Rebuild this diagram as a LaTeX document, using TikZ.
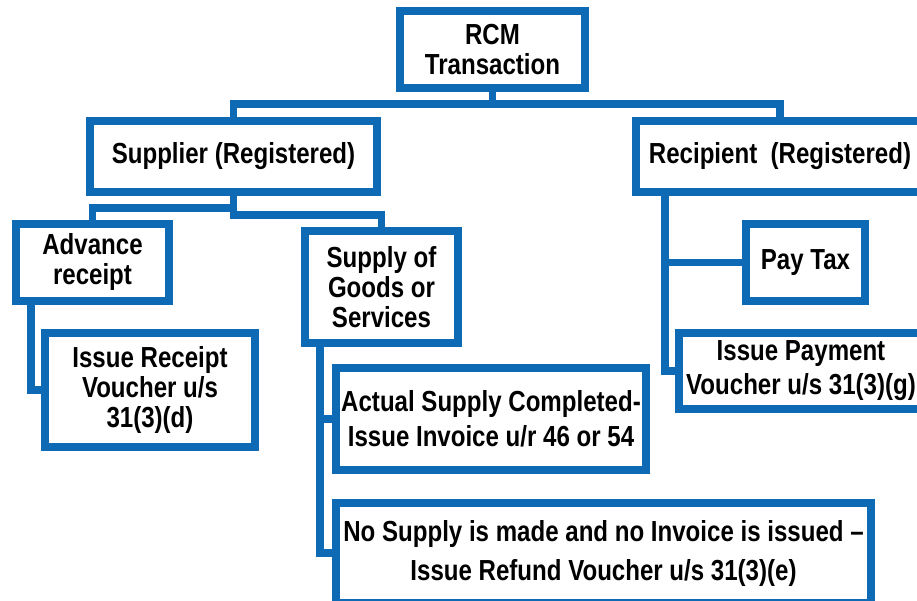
\documentclass[tikz,border=0pt]{standalone}
\usepackage{fontspec}
\setmainfont{Liberation Sans}[FakeStretch=0.83]
\definecolor{boxblue}{RGB}{15,106,181}
\begin{document}
\begin{tikzpicture}[x=1pt,y=-1pt,
  box/.style={draw=boxblue,line width=7.5pt,inner sep=0pt,outer sep=0pt,align=center,
    font={\fontsize{29}{30}\selectfont\bfseries},text=black},
  link/.style={draw=boxblue,line width=7.5pt}]
\useasboundingbox (0,0) rectangle (917,601);
\clip (0,0) rectangle (917,601);
\node[box,minimum width=185pt,minimum height=77pt] (rcm) at (492.5,49.5) {RCM\\Transaction};
\node[box,minimum width=287pt,minimum height=71pt] (sup) at (233.5,156.5) {Supplier (Registered)};
\node[box,minimum width=288pt,minimum height=71pt] (rec) at (780,156.5) {Recipient~~(Registered)};
\node[box,minimum width=153pt,minimum height=77pt] (adv) at (92.5,262.5) {Advance\\receipt};
\node[box,minimum width=153pt,minimum height=112pt] (goods) at (381.5,287) {Supply of\\Goods or\\Services};
\node[box,minimum width=210pt,minimum height=114pt] (receipt) at (150,390) {Issue Receipt\\Voucher u/s\\31(3)(d)};
\node[box,minimum width=310pt,minimum height=102pt] (actual) at (491,419) {Actual Supply Completed-\\[5pt]Issue Invoice u/r 46 or 54};
\node[box,minimum width=535pt,minimum height=100pt] (nosup) at (603.5,553) {No Supply is made and no Invoice is issued –\\[9pt]Issue Refund Voucher u/s 31(3)(e)};
\node[box,minimum width=119pt,minimum height=77pt] (paytax) at (805.5,262.5) {Pay Tax};
\node[box,minimum width=244pt,minimum height=76pt] (payment) at (801,371) {Issue Payment\\[4pt]Voucher u/s 31(3)(g)};
\draw[link] (rcm.south) -- ++(0,16) -| (sup.north);
\draw[link] (rcm.south) -- ++(0,16) -| (rec.north);
\draw[link] (sup.south) -- ++(0,16) -| (adv.north);
\draw[link] (sup.south) -- ++(0,23) -| (goods.north);
\draw[link] ([xshift=15pt]adv.south west) |- (receipt.west);
\draw[link] ([xshift=15pt]goods.south west) |- (actual.west);
\draw[link] ([xshift=15pt]goods.south west) |- (nosup.west);
\draw[link] ([xshift=29pt]rec.south west) |- (paytax.west);
\draw[link] ([xshift=29pt]rec.south west) |- (payment.west);
\end{tikzpicture}
\end{document}
